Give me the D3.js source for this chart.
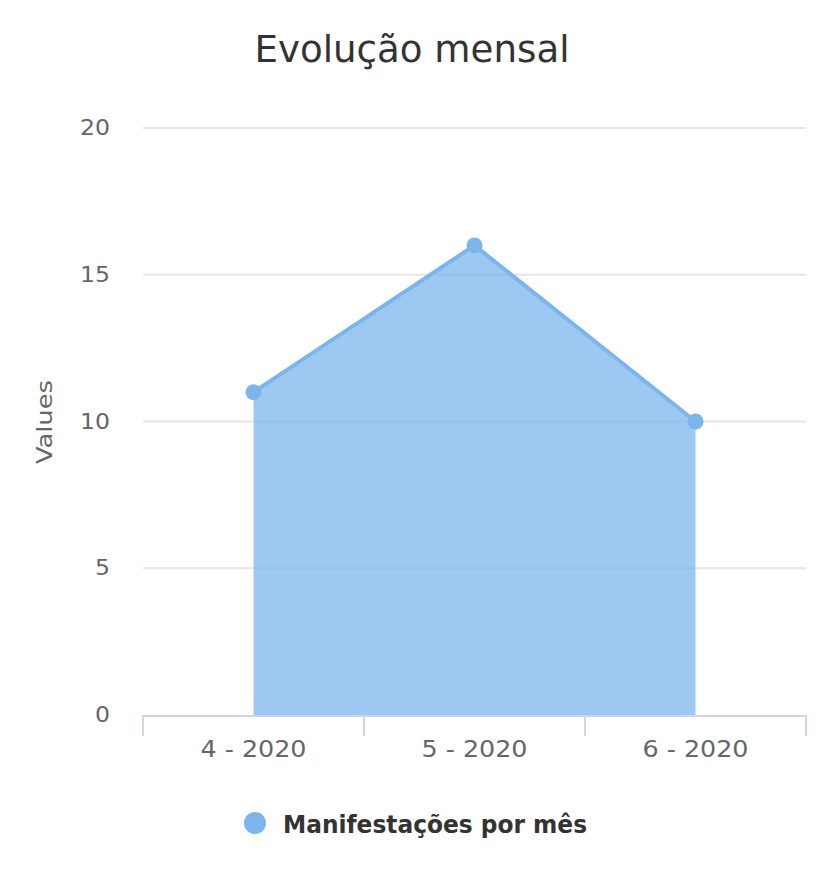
<!DOCTYPE html>
<html><head><meta charset="utf-8">
<script src="https://cdn.jsdelivr.net/npm/d3@7"></script>
<style>body{margin:0;background:#fff;}text{font-family:"DejaVu Sans Condensed","DejaVu Sans",sans-serif;}</style>
</head><body>
<svg id="c" width="818" height="887"></svg>
<script>
const categories = ["4 - 2020", "5 - 2020", "6 - 2020"];
const values = [11, 16, 10];
const yTicks = [0, 5, 10, 15, 20];
const seriesName = "Manifestações por mês";
const title = "Evolução mensal";
const yTitle = "Values";

(function(){
const svg = d3.select("#c");
const pLeft = 143, pRight = 806, pTop = 128, pBottom = 715;
const x = d3.scaleBand().domain(categories).range([pLeft, pRight]);
const y = d3.scaleLinear().domain([0, 20]).range([pBottom, pTop]);
const color = "#7cb5ec";

svg.append("g").selectAll("line").data(yTicks.filter(d => d > 0)).join("line")
  .attr("x1", pLeft).attr("x2", pRight).attr("y1", d => y(d)).attr("y2", d => y(d))
  .attr("stroke", "#e6e6e6").attr("stroke-width", 2);

svg.append("g").selectAll("text").data(yTicks).join("text")
  .attr("x", 110).attr("y", d => y(d) + 7).attr("text-anchor", "end")
  .attr("font-size", 22).attr("fill", "#666")
  .attr("textLength", d => String(d).length * 15).attr("lengthAdjust", "spacingAndGlyphs")
  .text(d => d);

svg.append("text").attr("transform", "translate(52,422) rotate(-90)")
  .attr("text-anchor", "middle").attr("font-size", 22).attr("fill", "#666")
  .attr("textLength", 84).attr("lengthAdjust", "spacingAndGlyphs").text(yTitle);

const cx = d => x(d) + x.bandwidth() / 2;
const pts = categories.map((c, i) => ({c, v: values[i]}));
svg.append("path").datum(pts)
  .attr("d", d3.area().x(d => cx(d.c)).y0(y(0)).y1(d => y(d.v)))
  .attr("fill", color).attr("fill-opacity", 0.75);
svg.append("path").datum(pts)
  .attr("d", d3.line().x(d => cx(d.c)).y(d => y(d.v)))
  .attr("fill", "none").attr("stroke", color).attr("stroke-width", 4);
svg.append("g").selectAll("circle").data(pts).join("circle")
  .attr("cx", d => cx(d.c)).attr("cy", d => y(d.v)).attr("r", 8).attr("fill", color);

svg.append("line").attr("x1", pLeft).attr("x2", pRight).attr("y1", pBottom + 1).attr("y2", pBottom + 1)
  .attr("stroke", "#ccd6eb").attr("stroke-width", 2);
const tickPos = categories.map(c => x(c)).concat([pRight]);
svg.append("g").selectAll("line").data(tickPos).join("line")
  .attr("x1", d => d).attr("x2", d => d).attr("y1", pBottom).attr("y2", pBottom + 21)
  .attr("stroke", "#ccd6eb").attr("stroke-width", 2);
svg.append("g").selectAll("text").data(categories).join("text")
  .attr("x", d => cx(d)).attr("y", 757).attr("text-anchor", "middle")
  .attr("font-size", 23).attr("fill", "#666")
  .attr("textLength", 106).attr("lengthAdjust", "spacingAndGlyphs").text(d => d);

svg.append("text").attr("x", 412).attr("y", 62).attr("text-anchor", "middle")
  .attr("font-size", 38).attr("fill", "#333")
  .attr("textLength", 315).attr("lengthAdjust", "spacingAndGlyphs").text(title);

svg.append("circle").attr("cx", 255).attr("cy", 823).attr("r", 11).attr("fill", color);
svg.append("text").attr("x", 283).attr("y", 833).attr("font-size", 24).attr("font-weight", "bold")
  .attr("fill", "#333")
  .attr("textLength", 304).attr("lengthAdjust", "spacingAndGlyphs").text(seriesName);
})();
</script>
</body></html>
